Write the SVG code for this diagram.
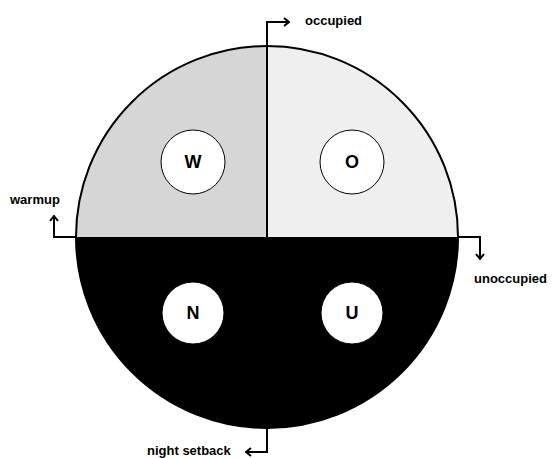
<svg xmlns="http://www.w3.org/2000/svg" width="552" height="458" viewBox="0 0 552 458">
<style>
.lbl{font-family:"Liberation Sans",Arial,sans-serif;font-weight:bold;font-size:13px;fill:#000}
.let{font-family:"Liberation Sans",Arial,sans-serif;font-weight:bold;font-size:18px;fill:#000;text-anchor:middle;dominant-baseline:central}
.st{fill:#fff;stroke:#000;stroke-width:1}
.conn{fill:none;stroke:#000;stroke-width:2}
</style>
<defs>
<marker id="ah" viewBox="0 0 10 10" refX="9" refY="5" markerWidth="10" markerHeight="10" markerUnits="userSpaceOnUse" orient="auto">
<path d="M4,1 L9,5 L4,9" fill="none" stroke="#000" stroke-width="2"/>
</marker>
</defs>
<rect width="552" height="458" fill="#fff"/>
<g id="dial">
<path d="M267,237 L76,237 A191,191 0 0 1 267,46 Z" fill="#d6d6d6"/>
<path d="M267,237 L267,46 A191,191 0 0 1 458,237 Z" fill="#efefef"/>
<path d="M76,237 A191,191 0 0 0 458,237 Z" fill="#000"/>
<circle cx="267" cy="237" r="191" fill="none" stroke="#000" stroke-width="2"/>
<line x1="267" y1="46" x2="267" y2="237" stroke="#000" stroke-width="2"/>
</g>
<g id="connectors">
<path class="conn" d="M267,46 L267,22 L289,22" marker-end="url(#ah)"/>
<path class="conn" d="M76,237 L54,237 L54,216" marker-end="url(#ah)"/>
<path class="conn" d="M458,237 L480,237 L480,259" marker-end="url(#ah)"/>
<path class="conn" d="M267,428 L267,452 L246,452" marker-end="url(#ah)"/>
</g>
<g id="W"><circle class="st" cx="193" cy="162" r="32"/><text class="let" x="193" y="162">W</text></g>
<g id="O"><circle class="st" cx="352" cy="162" r="32"/><text class="let" x="352" y="162">O</text></g>
<g id="N"><circle class="st" cx="193" cy="313" r="31"/><text class="let" x="193" y="313">N</text></g>
<g id="U"><circle class="st" cx="352" cy="313" r="31"/><text class="let" x="352" y="313">U</text></g>
<g id="labels">
<text class="lbl" x="305" y="25">occupied</text>
<text class="lbl" x="10" y="204">warmup</text>
<text class="lbl" x="474" y="283">unoccupied</text>
<text class="lbl" x="147" y="455">night setback</text>
</g>
</svg>
